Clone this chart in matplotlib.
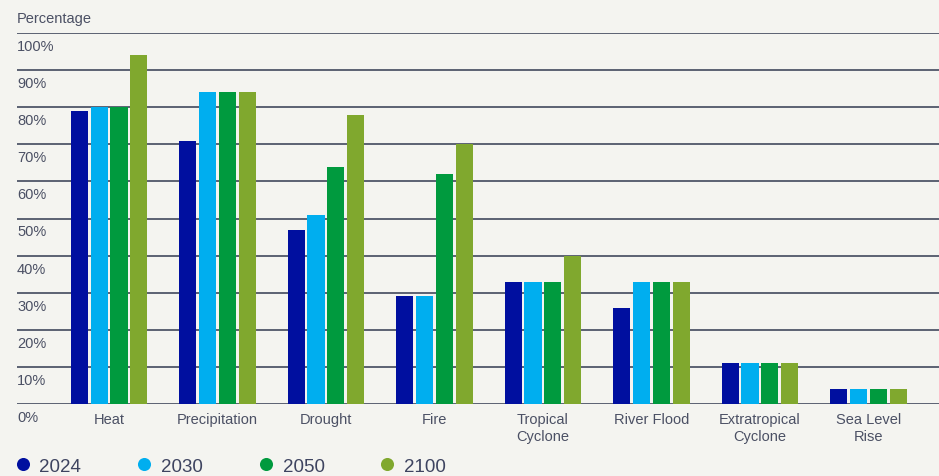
import matplotlib
matplotlib.use('Agg')
import matplotlib.pyplot as plt
import matplotlib.transforms as mtransforms
from matplotlib.lines import Line2D
import numpy as np

# chart data
categories = ['Heat', 'Precipitation', 'Drought', 'Fire', 'Tropical\nCyclone',
              'River Flood', 'Extratropical\nCyclone', 'Sea Level\nRise']
years = ['2024', '2030', '2050', '2100']
v2024 = [79, 71, 47, 29, 33, 26, 11, 4]
v2030 = [80, 84, 51, 29, 33, 33, 11, 4]
v2050 = [80, 84, 64, 62, 33, 33, 11, 4]
v2100 = [94, 84, 78, 70, 40, 33, 11, 4]
yticks = [0, 10, 20, 30, 40, 50, 60, 70, 80, 90, 100]

colours = ['#000f9f', '#00aeef', '#009a3e', '#80a82e']
bg = '#f4f4f0'
grid_col = '#5b6172'
text_col = '#4b5064'

plt.rcParams['font.family'] = ['Liberation Sans', 'DejaVu Sans']

W, H = 939, 477
fig = plt.figure(figsize=(W / 100, H / 100), dpi=100, facecolor=bg)
ax = fig.add_axes([17 / W, 1 - 405 / H, 1 - 17 / W, (405 - 34) / H])
ax.set_facecolor(bg)

# gridlines
for t in yticks:
    ax.axhline(t, color=grid_col, lw=1.4, zorder=1)

# bars
x = np.arange(len(categories))
width = 0.157
step = 0.184
series = [v2024, v2030, v2050, v2100]
for i, vals in enumerate(series):
    ax.bar(x + (i - 1.5) * step, vals, width, color=colours[i], zorder=2,
           clip_on=False)

ax.set_xlim(-0.848, 7.65)
ax.set_ylim(0, 100)
for s in ax.spines.values():
    s.set_visible(False)

ax.set_xticks(x)
ax.set_xticklabels(categories, fontsize=10.5, color=text_col, linespacing=1.3)
ax.tick_params(axis='x', length=0, pad=5.5)
ax.set_yticks([])

# y labels sit below each gridline, left aligned
trans = mtransforms.offset_copy(ax.get_yaxis_transform(), fig=fig, x=0, y=-13, units='dots')
for t in yticks:
    ax.text(0, t, f'{t}%', transform=trans, ha='left', va='center',
            fontsize=10.5, color=text_col)

fig.text(17 / W, 1 - 19 / H, 'Percentage', ha='left', va='center',
         fontsize=10.5, color=text_col)

# legend at the bottom
handles = [Line2D([], [], marker='o', ls='', markersize=9.4, color=c,
                  markeredgewidth=0) for c in colours]
fig.legend(handles, years, ncol=4, loc='center left',
           bbox_to_anchor=(15 / W, 1 - 467 / H), frameon=False,
           fontsize=13.5, handlelength=0.8, handletextpad=0.5,
           columnspacing=2.95, borderpad=0, borderaxespad=0,
           labelcolor='#3e4460')

fig.savefig('out.png', dpi=100, facecolor=bg)
